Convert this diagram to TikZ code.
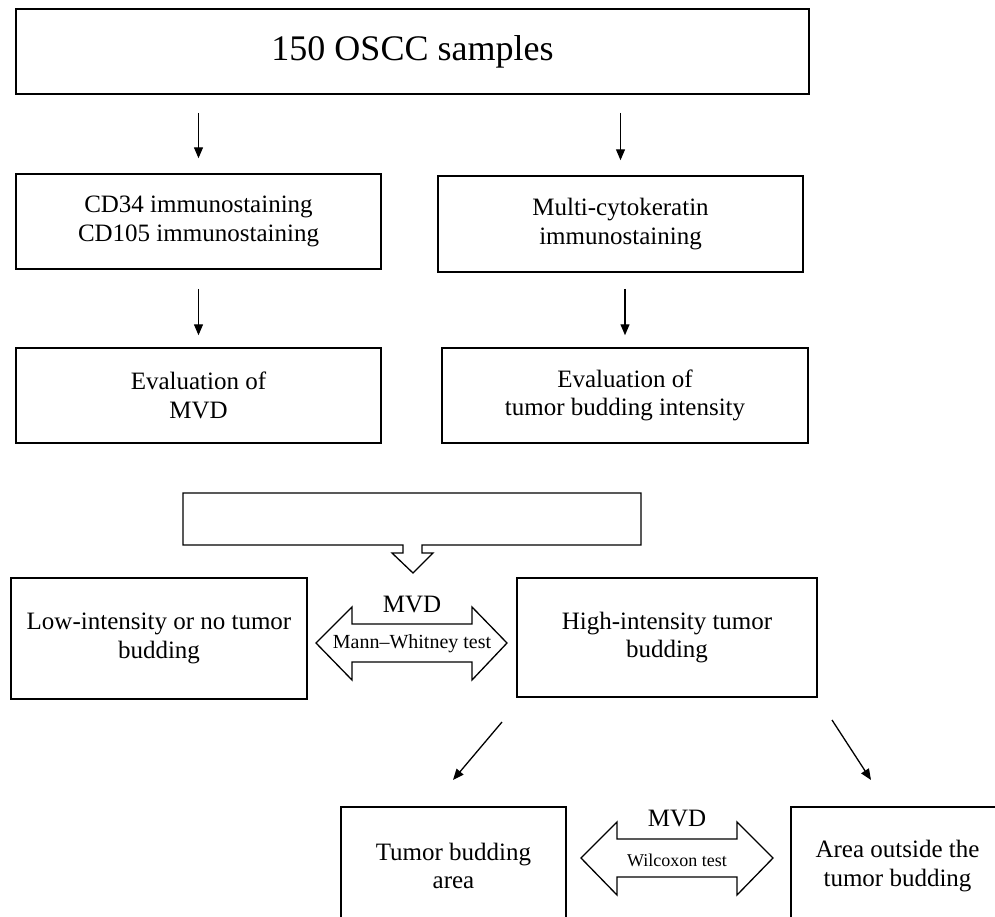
\documentclass[tikz,border=0pt]{standalone}
\usepackage{fontspec}
\setmainfont{Liberation Serif}
\usetikzlibrary{arrows.meta,calc}
\begin{document}
\begin{tikzpicture}[x=1pt,y=-1pt,
  box/.style={draw,line width=1.5pt,inner sep=0pt,align=center,font=\fontsize{25}{28.5}\selectfont},
  arr/.style={line width=1.3pt,-{Triangle[length=11pt,width=9pt]}},
  hollow/.style={draw,line width=1.3pt,line join=miter},
  lbl/.style={inner sep=0pt}]
\useasboundingbox (0,0) rectangle (995,916);
\clip (0,0) rectangle (995,916);
% boxes
\node[box,minimum width=793pt,minimum height=85pt,font=\fontsize{36}{40}\selectfont] (top) at (412.5,51.5) {150 OSCC samples};
\node[box,minimum width=365pt,minimum height=95pt] (cd) at (198.5,221.5) {CD34 immunostaining\\CD105 immunostaining};
\node[box,minimum width=365pt,minimum height=96pt] (multi) at (620.5,224) {Multi-cytokeratin\\immunostaining};
\node[box,minimum width=365pt,minimum height=95pt] (evmvd) at (198.5,395.5) {Evaluation of\\MVD};
\node[box,minimum width=366pt,minimum height=95pt] (evtb) at (625,395.5) {Evaluation of\\tumor budding intensity};
\node[box,minimum width=296pt,minimum height=121pt] (low) at (159,638.5) {Low-intensity or no tumor\\budding};
\node[box,minimum width=300pt,minimum height=119pt] (high) at (667,637.5) {High-intensity tumor\\budding};
\node[box,minimum width=225pt,minimum height=118pt] (tba) at (453.5,866) {Tumor budding\\area};
\node[box,minimum width=213pt,minimum height=118pt] (aot) at (897.5,866) {Area outside the\\tumor budding};
% straight arrows
\draw[arr,shorten <=18pt,shorten >=15pt] (top.south -| cd) -- (cd.north);
\draw[arr,shorten <=18pt,shorten >=15pt] (top.south -| multi) -- (multi.north);
\draw[arr,shorten <=19pt,shorten >=12pt] (cd.south) -- (evmvd.north);
\draw[arr,shorten <=16pt,shorten >=12pt] (multi.south -| evtb) -- (evtb.north);
% wide box with hollow down arrow
\draw[hollow] (403,545) -- (183,545) -- (183,493) -- (641,493) -- (641,545) -- (422,545)
  -- (422,553) -- (433,553) -- (413,573) -- (392,553) -- (403,553) -- cycle;
% Mann-Whitney double arrow
\draw[hollow] (316,643) -- (352,607) -- (352,624) -- (472,624) -- (472,607) -- (507,643)
  -- (472,680) -- (472,662) -- (352,662) -- (352,680) -- cycle;
\node[lbl,font=\fontsize{25}{28}\selectfont] (mvd1) at (412,604) {MVD};
\node[lbl,font=\fontsize{20}{22}\selectfont] (mw) at (412,644) {Mann–Whitney test};
% diagonal arrows
\coordinate (d1s) at (502,722);
\coordinate (d1e) at (453,780);
\coordinate (d2s) at (832,720);
\coordinate (d2e) at (871,780);
\draw[arr] (d1s) -- (d1e);
\draw[arr] (d2s) -- (d2e);
% Wilcoxon double arrow
\draw[hollow] (581,858) -- (617,822) -- (617,839) -- (737,839) -- (737,822) -- (773,858)
  -- (737,895) -- (737,877) -- (617,877) -- (617,895) -- cycle;
\node[lbl,font=\fontsize{25}{28}\selectfont] (mvd2) at (677,818) {MVD};
\node[lbl,font=\fontsize{18}{20}\selectfont] (wx) at (677,860) {Wilcoxon test};
\end{tikzpicture}
\end{document}
